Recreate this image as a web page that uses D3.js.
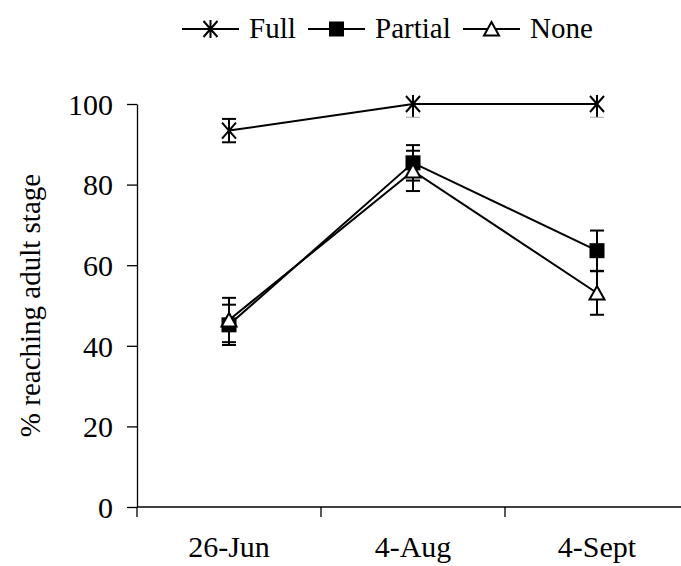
<!DOCTYPE html>
<html>
<head>
<meta charset="utf-8">
<script src="https://cdn.jsdelivr.net/npm/d3@7"></script>
</head>
<body style="margin:0">
<script>
// data
const dates = ["26-Jun", "4-Aug", "4-Sept"];
const series = ["Full", "Partial", "None"];
const fullVals = [93.4, 100, 100];
const fullErr = [2.9, 3.3, 3.3];
const partialVals = [45.2, 85.4, 63.6];
const partialErr = [5, 4.4, 5];
const noneVals = [46.4, 83.4, 53.1];
const noneErr = [5.5, 5, 5.4];
const yTicks = [0, 20, 40, 60, 80, 100];

const width = 681, height = 566;
const margin = {top: 104, left: 137, bottom: 59};

const data = [
  {name: series[0], vals: fullVals, err: fullErr},
  {name: series[1], vals: partialVals, err: partialErr},
  {name: series[2], vals: noneVals, err: noneErr}
];

const svg = d3.select("body").append("svg")
  .attr("width", width)
  .attr("height", height);

// text helper: serif face, black
function serif(sel, size) {
  return sel
    .attr("font-family", "Liberation Serif")
    .style("font-family", '"Liberation Serif"')
    .style("font-size", size + "px")
    .attr("fill", "#000");
}

const x = d3.scaleBand()
  .domain(dates)
  .range([margin.left, margin.left + 3 * 184]);

const y = d3.scaleLinear()
  .domain([0, 100])
  .range([height - margin.bottom, margin.top]);

const cx = d => x(d) + x.bandwidth() / 2;

// y axis
const yaxis = d3.axisLeft(y)
  .tickValues(yTicks)
  .tickSize(10)
  .tickSizeOuter(0)
  .tickPadding(14);

const gy = svg.append("g")
  .attr("transform", `translate(${margin.left},0)`)
  .call(yaxis)
  .attr("font-family", "Liberation Serif");
serif(gy.selectAll("text"), 30).attr("dy", "0.34em");
gy.selectAll("path, line").attr("stroke", "#000").attr("stroke-width", 1.3);

// x axis: line + ticks at the band edges, labels at the centres
const gx = svg.append("g")
  .attr("transform", `translate(0,${y(0)})`);
gx.append("line")
  .attr("x1", x.range()[0]).attr("x2", x.range()[1])
  .attr("stroke", "#000").attr("stroke-width", 1.3);
gx.selectAll(".tk")
  .data(dates.map(d => x(d)).concat([x.range()[1]]))
  .enter().append("line")
  .attr("x1", d => d).attr("x2", d => d)
  .attr("y1", 0).attr("y2", 10)
  .attr("stroke", "#000").attr("stroke-width", 1.3);
serif(gx.selectAll(".lbl")
  .data(dates)
  .enter().append("text")
  .attr("x", cx)
  .attr("y", 50)
  .attr("text-anchor", "middle")
  .text(d => d), 30);

// y label
serif(svg.append("text")
  .attr("transform", `translate(40,${(y(0) + y(100)) / 2}) rotate(-90)`)
  .attr("text-anchor", "middle")
  .text("% reaching adult stage"), 29);

// lines
const line = d3.line()
  .x((v, i) => cx(dates[i]))
  .y(v => y(v));

svg.selectAll(".series")
  .data(data)
  .enter().append("path")
  .attr("d", d => line(d.vals))
  .attr("fill", "none")
  .attr("stroke", "#000")
  .attr("stroke-width", 2);

// error bars
data.forEach(s => {
  s.vals.forEach((v, i) => {
    const px = cx(dates[i]);
    const hi = Math.min(100, v + s.err[i]);
    const lo = v - s.err[i];
    const g = svg.append("g").attr("stroke", "#000").attr("stroke-width", 2);
    g.append("line").attr("x1", px).attr("x2", px).attr("y1", y(hi)).attr("y2", y(lo));
    if (hi > v) g.append("line").attr("x1", px - 7).attr("x2", px + 7).attr("y1", y(hi)).attr("y2", y(hi));
    g.append("line").attr("x1", px - 7).attr("x2", px + 7).attr("y1", y(lo)).attr("y2", y(lo))
      .attr("stroke", hi > v ? "#000" : "#aaa").attr("stroke-width", hi > v ? 2 : 1);
  });
});

// markers
function marker(g, name) {
  if (name === "Full") {
    g.append("path")
      .attr("d", "M-7,-8L7,8M7,-8L-7,8M0,-9V9")
      .attr("stroke", "#000").attr("stroke-width", 2).attr("fill", "none");
  } else if (name === "Partial") {
    g.append("rect")
      .attr("x", -7.5).attr("y", -7.5).attr("width", 15).attr("height", 15)
      .attr("fill", "#000");
  } else {
    g.append("path")
      .attr("d", "M0,-7L7.5,6.5L-7.5,6.5Z")
      .attr("fill", "#fff").attr("stroke", "#000").attr("stroke-width", 2);
  }
}

data.forEach(s => {
  s.vals.forEach((v, i) => {
    const g = svg.append("g").attr("transform", `translate(${cx(dates[i])},${y(v)})`);
    marker(g, s.name);
  });
});

// legend
const legendItems = [
  {name: series[0], x: 182},
  {name: series[1], x: 308},
  {name: series[2], x: 463}
];
const lg = svg.append("g").attr("transform", "translate(0,29)");
legendItems.forEach(it => {
  lg.append("line")
    .attr("x1", it.x).attr("x2", it.x + 57)
    .attr("stroke", "#000").attr("stroke-width", 2);
  marker(lg.append("g").attr("transform", `translate(${it.x + 28.5},0)`), it.name);
  serif(lg.append("text")
    .attr("x", it.x + 67)
    .attr("y", 9)
    .text(it.name), 29);
});
</script>
</body>
</html>
